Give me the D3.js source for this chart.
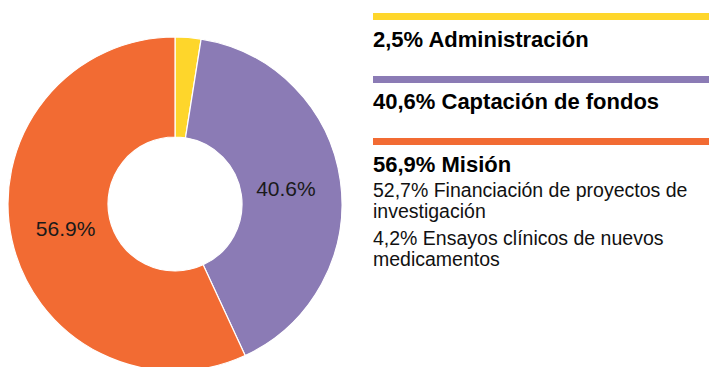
<!DOCTYPE html>
<html>
<head>
<meta charset="utf-8">
<script src="https://cdn.jsdelivr.net/npm/d3@7"></script>
<style>
  html, body { margin: 0; padding: 0; background: #fff; }
  svg { display: block; font-family: "Liberation Sans", Arial, sans-serif; }
</style>
</head>
<body>
<svg id="chart" width="709" height="367"></svg>
<script>
// Budget split: categories, shares (%) and colours
const categories = ["Administración", "Captación de fondos", "Misión"];
const shares = [2.5, 40.6, 56.9];
const colors = ["#FED62B", "#8B7BB5", "#F26B33"];
const sliceLabels = ["", "40.6%", "56.9%"];

// Legend headings and the breakdown of "Misión"
const legendTitles = ["2,5% Administración", "40,6% Captación de fondos", "56,9% Misión"];
const missionDetails = [
  ["52,7% Financiación de proyectos de", "investigación"],
  ["4,2% Ensayos clínicos de nuevos", "medicamentos"]
];

const svg = d3.select("#chart");

// Donut
const cx = 175, cy = 204, outerR = 167, innerR = 67, labelR = 112;
const data = categories.map((c, i) => ({ name: c, value: shares[i], color: colors[i], label: sliceLabels[i] }));

const pie = d3.pie().value(d => d.value).sort(null);
const arc = d3.arc().innerRadius(innerR).outerRadius(outerR);
const labelArc = d3.arc().innerRadius(labelR).outerRadius(labelR);

const g = svg.append("g").attr("transform", `translate(${cx},${cy})`);
const arcs = pie(data);

g.selectAll("path.slice")
  .data(arcs)
  .join("path")
  .attr("class", "slice")
  .attr("d", arc)
  .attr("fill", d => d.data.color)
  .attr("stroke", "#fff")
  .attr("stroke-width", 1.2);

g.selectAll("text.slice-label")
  .data(arcs.filter(d => d.data.label))
  .join("text")
  .attr("class", "slice-label")
  .attr("transform", d => `translate(${labelArc.centroid(d)})`)
  .attr("text-anchor", "middle")
  .attr("dominant-baseline", "central")
  .attr("font-size", 21)
  .attr("fill", "#1a1a1a")
  .text(d => d.data.label);

// Legend
const lx = 373, lw = 336;
const barY = [13, 76, 138];
const titleY = [47, 109, 172];

const legend = svg.append("g");
categories.forEach((c, i) => {
  legend.append("rect")
    .attr("x", lx).attr("y", barY[i])
    .attr("width", lw).attr("height", 7)
    .attr("fill", colors[i]);
  legend.append("text")
    .attr("x", lx).attr("y", titleY[i])
    .attr("font-size", 22)
    .attr("font-weight", "bold")
    .attr("fill", "#000")
    .text(legendTitles[i]);
});

const detailY = [[197, 218], [245, 266]];
missionDetails.forEach((lines, i) => {
  lines.forEach((line, j) => {
    legend.append("text")
      .attr("x", lx).attr("y", detailY[i][j])
      .attr("font-size", 19.5)
      .attr("fill", "#111")
      .text(line);
  });
});
</script>
</body>
</html>
